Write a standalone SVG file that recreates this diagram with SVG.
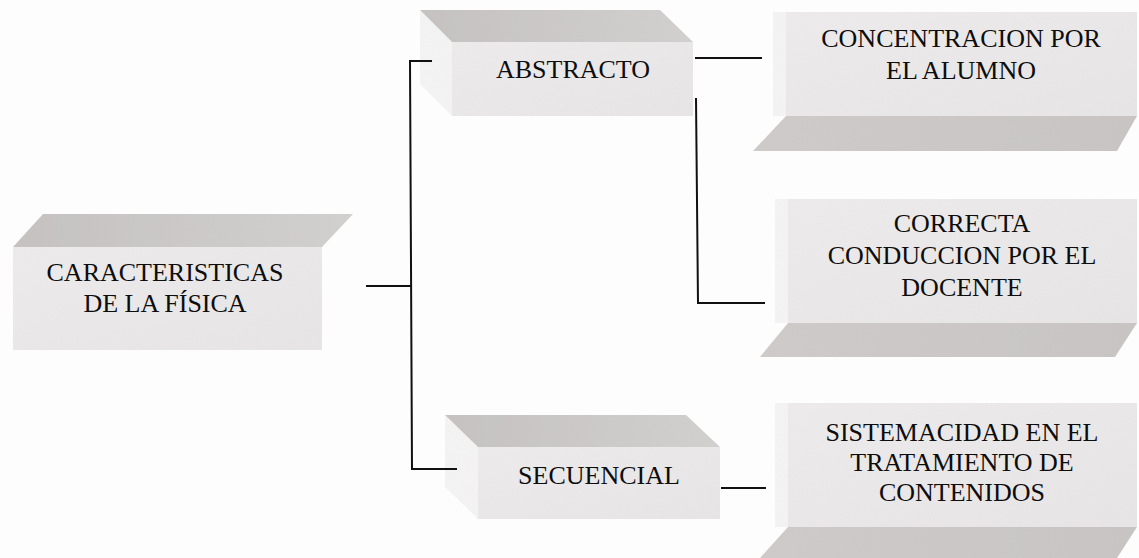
<svg xmlns="http://www.w3.org/2000/svg" width="1139" height="558" viewBox="0 0 1139 558">
  <defs>
    <linearGradient id="front" x1="0" y1="0" x2="1" y2="1">
      <stop offset="0" stop-color="#eeeced"/>
      <stop offset="1" stop-color="#e8e6e7"/>
    </linearGradient>
    <linearGradient id="topface" x1="0" y1="0" x2="1" y2="0">
      <stop offset="0" stop-color="#c6c2c2"/>
      <stop offset="1" stop-color="#d3d0d0"/>
    </linearGradient>
    <linearGradient id="shade" x1="0" y1="0" x2="1" y2="0">
      <stop offset="0" stop-color="#cfcbcb"/>
      <stop offset="1" stop-color="#c9c5c5"/>
    </linearGradient>
    <filter id="grain" x="0" y="0" width="100%" height="100%">
      <feTurbulence type="fractalNoise" baseFrequency="0.9" numOctaves="2" seed="3" result="n"/>
      <feColorMatrix in="n" type="matrix" values="0 0 0 0 0.5  0 0 0 0 0.5  0 0 0 0 0.5  0 0 0 0.1 0" result="g"/>
      <feComposite in="g" in2="SourceGraphic" operator="in" result="gc"/>
      <feMerge><feMergeNode in="SourceGraphic"/><feMergeNode in="gc"/></feMerge>
    </filter>
  </defs>
  <style>
    .front { fill: url(#front); }
    .top { fill: url(#topface); }
    .shade { fill: url(#shade); }
    .side { fill: #f6f5f6; }
    .lbl { font-family: "Liberation Serif", "Times New Roman", serif; font-size: 26px; fill: #0d0d0d; text-anchor: middle; }
    .conn { stroke: #111; stroke-width: 2; fill: none; }
  </style>
  <rect width="1139" height="558" fill="#fefdfe"/>

  <g id="node-caracteristicas">
    <g filter="url(#grain)">
      <polygon class="top" points="13,247 43,214 353,214 322,247"/>
      <rect class="front" x="13" y="247" width="309" height="103"/>
    </g>
    <text class="lbl" x="165" y="281">CARACTERISTICAS</text>
    <text class="lbl" x="165" y="312">DE LA FÍSICA</text>
  </g>

  <g id="node-abstracto">
    <g filter="url(#grain)">
      <polygon class="side" points="420,10 452,42 452,116 420,84"/>
      <polygon class="top" points="420,10 660,10 693,42 452,42"/>
      <rect class="front" x="452" y="42" width="241" height="74"/>
    </g>
    <text class="lbl" x="573" y="78">ABSTRACTO</text>
  </g>

  <g id="node-secuencial">
    <g filter="url(#grain)">
      <polygon class="side" points="445,415 478,447 478,519 445,487"/>
      <polygon class="top" points="445,415 686,415 720,447 478,447"/>
      <rect class="front" x="478" y="447" width="242" height="72"/>
    </g>
    <text class="lbl" x="599" y="484">SECUENCIAL</text>
  </g>

  <g id="node-concentracion">
    <g filter="url(#grain)">
      <rect class="side" x="773" y="12" width="13" height="104"/>
      <rect class="front" x="786" y="12" width="351" height="104"/>
      <polygon class="shade" points="786,116 1137,116 1117,151 753,151"/>
    </g>
    <text class="lbl" x="961" y="47">CONCENTRACION POR</text>
    <text class="lbl" x="961" y="79">EL ALUMNO</text>
  </g>

  <g id="node-correcta">
    <g filter="url(#grain)">
      <rect class="side" x="775" y="199" width="13" height="124"/>
      <rect class="front" x="788" y="199" width="349" height="124"/>
      <polygon class="shade" points="788,323 1137,323 1115,357 760,357"/>
    </g>
    <text class="lbl" x="962" y="232">CORRECTA</text>
    <text class="lbl" x="962" y="264">CONDUCCION POR EL</text>
    <text class="lbl" x="962" y="296">DOCENTE</text>
  </g>

  <g id="node-sistemacidad">
    <g filter="url(#grain)">
      <rect class="side" x="775" y="403" width="13" height="124"/>
      <rect class="front" x="788" y="403" width="349" height="124"/>
      <polygon class="shade" points="788,527 1137,527 1117,558 760,558"/>
    </g>
    <text class="lbl" x="962" y="441">SISTEMACIDAD EN EL</text>
    <text class="lbl" x="962" y="471">TRATAMIENTO DE</text>
    <text class="lbl" x="962" y="501">CONTENIDOS</text>
  </g>

  <g id="connectors">
    <line class="conn" x1="366" y1="286" x2="411" y2="286"/>
    <polyline class="conn" points="432,61 410,61 412,469 457,469"/>
    <line class="conn" x1="695" y1="58" x2="762" y2="58"/>
    <polyline class="conn" points="696,98 698,303 765,303"/>
    <line class="conn" x1="721" y1="488" x2="766" y2="488"/>
  </g>
</svg>
